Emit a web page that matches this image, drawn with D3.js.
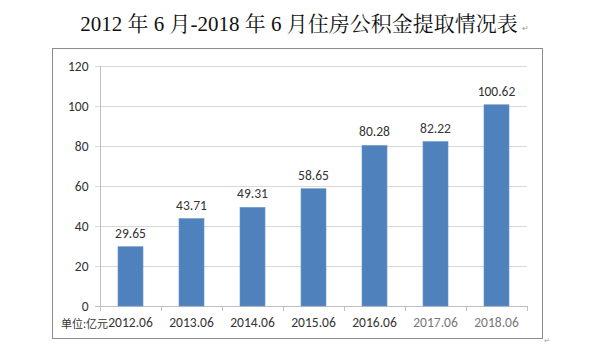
<!DOCTYPE html>
<html><head><meta charset="utf-8">
<script src="https://cdn.jsdelivr.net/npm/d3@7"></script>
<style>body{margin:0;background:#fff}svg{display:block}</style>
</head><body>
<script>
const categories = ["2012.06","2013.06","2014.06","2015.06","2016.06","2017.06","2018.06"];
const values = [29.65,43.71,49.31,58.65,80.28,82.22,100.62];
const yTicks = [0,20,40,60,80,100,120];
const titleText = "2012 年 6 月-2018 年 6 月住房公积金提取情况表";
const unitText = "单位:亿元";

const W=600,H=353;
const svg=d3.select("body").append("svg").attr("width",W).attr("height",H);
const font="Calibri, Carlito, 'Liberation Sans', 'Noto Sans CJK SC', sans-serif";

// title
svg.append("text").attr("x",299).attr("y",30.5).attr("text-anchor","middle")
  .attr("font-family","'Liberation Serif','Noto Serif CJK SC','Noto Sans CJK SC',serif")
  .attr("font-size",21).attr("fill","#111").text(titleText);
svg.append("text").attr("x",522).attr("y",31).attr("font-size",8).attr("fill","#999").text("↵");

// frame
svg.append("rect").attr("x",52.5).attr("y",48.5).attr("width",490).attr("height",290)
  .attr("fill","none").attr("stroke","#8c8c8c").attr("stroke-width",1);
svg.append("text").attr("x",544).attr("y",343).attr("font-size",7).attr("fill","#999").text("↵");

const x=d3.scaleBand().domain(categories).range([100,527]).paddingInner(0.59).paddingOuter(0.295);
const y=d3.scaleLinear().domain([0,120]).range([306,66]);

// gridlines
svg.append("g").selectAll("line").data(yTicks).join("line")
  .attr("x1",95).attr("x2",527).attr("y1",d=>Math.round(y(d))+0.5).attr("y2",d=>Math.round(y(d))+0.5)
  .attr("stroke",d=>d===0?"#bfbfbf":"#d9d9d9").attr("stroke-width",1);

// y axis
const ya=svg.append("g").attr("transform","translate(100.5,0)")
  .call(d3.axisLeft(y).tickValues(yTicks).tickSize(0).tickPadding(12));
ya.select(".domain").attr("stroke","#bfbfbf").attr("d","M0,66V306");
ya.selectAll("text").attr("font-family",font).attr("font-size",13.5).attr("fill","#333");

// x axis
const xa=svg.append("g").attr("transform","translate(0,306.5)")
  .call(d3.axisBottom(x).tickSize(0).tickPadding(11));
xa.select(".domain").remove();
xa.selectAll("text").attr("font-family",font).attr("font-size",13.5)
  .attr("fill",(d,i)=>i>=5?"#777":"#333");
// category boundary ticks
const bounds=categories.map((c,i)=>x(c)-x.step()*x.paddingInner()/2);
bounds.push(527);
svg.append("g").selectAll("line").data(bounds).join("line")
  .attr("x1",d=>Math.round(d)+0.5).attr("x2",d=>Math.round(d)+0.5)
  .attr("y1",306).attr("y2",311).attr("stroke","#bfbfbf");

// unit label
svg.append("text").attr("x",61).attr("y",328).attr("font-family","'Noto Sans CJK SC',sans-serif")
  .attr("font-size",11).attr("fill","#333").text(unitText);

// bars
svg.append("g").selectAll("rect").data(values).join("rect")
  .attr("x",(d,i)=>x(categories[i])).attr("width",x.bandwidth())
  .attr("y",d=>y(d)).attr("height",d=>y(0)-y(d))
  .attr("fill","#4f81bd").attr("stroke","#6c95c8").attr("stroke-width",0.6);

// value labels
svg.append("g").selectAll("text").data(values).join("text")
  .attr("x",(d,i)=>x(categories[i])+x.bandwidth()/2).attr("y",d=>y(d)-9)
  .attr("text-anchor","middle").attr("font-family",font).attr("font-size",13.5).attr("fill","#333")
  .text(d=>d.toFixed(2));
</script>
</body></html>
